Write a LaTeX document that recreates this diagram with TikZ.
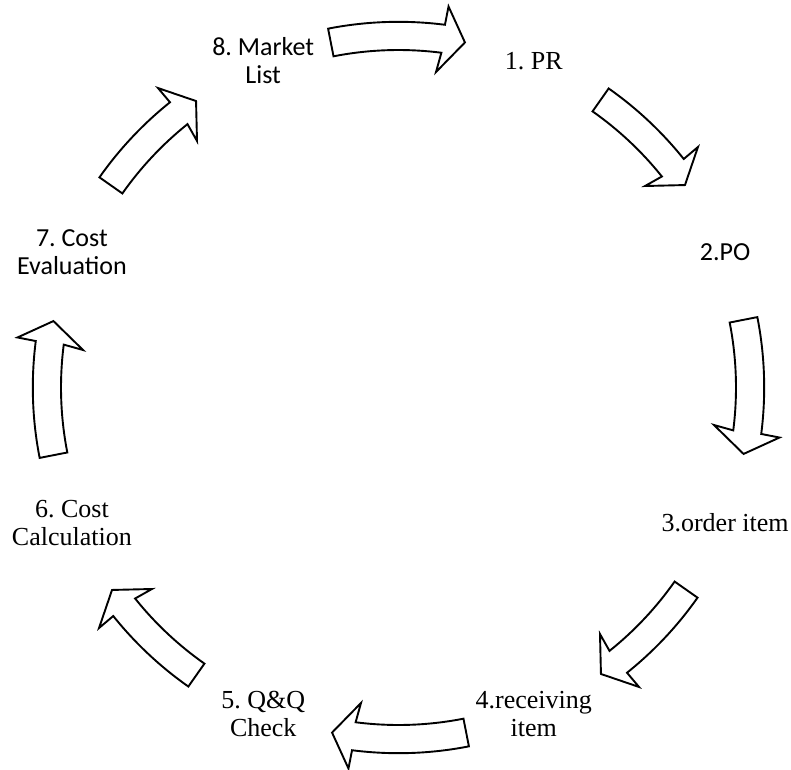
\documentclass[tikz,border=0pt]{standalone}
\usepackage{fontspec}
\setmainfont{Liberation Serif}
\newfontfamily\calibfont{Carlito}
\frenchspacing
\begin{document}
\begin{tikzpicture}[x=1pt,y=1pt,
  blockarrow/.style={draw=black,line width=1.9pt,fill=white,line join=miter,miter limit=10},
  tlabel/.style={align=center,inner sep=0pt,font=\fontsize{26}{28}\selectfont},
  clabel/.style={align=center,inner sep=0pt,font=\calibfont\fontsize{26}{28}\selectfont}]
\useasboundingbox (-398.5,-381.5) rectangle (392.5,387.5);
\coordinate (C) at (0,0);
% labels
\node[tlabel] (l1) at (67.5:353.5) {1. PR};
\node[clabel] (l2) at (22.5:353.5) {2.PO};
\node[tlabel] (l3) at (-22.5:353.5) {3.order item};
\node[tlabel] (l4) at (-67.5:353.5) {4.receiving\\item};
\node[tlabel] (l5) at (-112.5:353.5) {5. Q\&Q\\Check};
\node[tlabel] (l6) at (-157.5:353.5) {6. Cost\\Calculation};
\node[clabel] (l7) at (157.5:353.5) {7. Cost\\Evaluation};
\node[clabel] (l8) at (112.5:353.5) {8. Market\\List};
% arrows at top, right, bottom, left
\foreach \r in {0,90,180,270}{
  \draw[blockarrow,rotate=-\r] (101.1:365.7) arc[start angle=101.1,end angle=82.7,radius=365.7]
    -- (82.52:384.3) -- (79.1:351.4) -- (83.22:317.7) -- (82.7:337.5)
    arc[start angle=82.7,end angle=101.1,radius=337.5] -- cycle;
}
% diagonal arrows
\foreach \r in {0,90,180,270}{
  \draw[blockarrow,rotate=-\r] (54.9:365.5) arc[start angle=54.9,end angle=38.7,radius=365.5]
    -- (38.77:384.1) -- (35.25:350.8) -- (39.26:318.4) -- (38.7:337.5)
    arc[start angle=38.7,end angle=54.9,radius=337.5] -- cycle;
}
\end{tikzpicture}
\end{document}
